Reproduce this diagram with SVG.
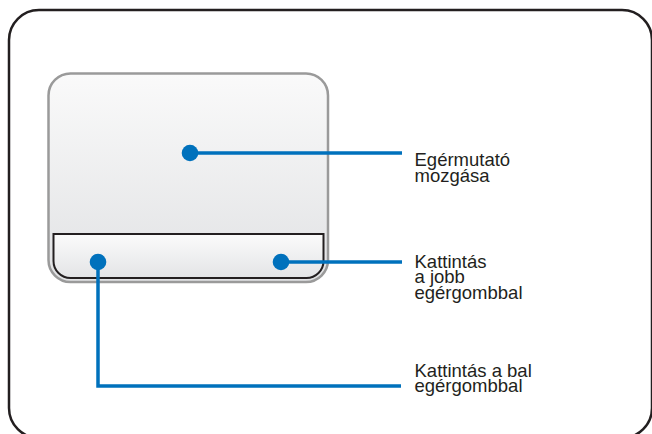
<svg xmlns="http://www.w3.org/2000/svg" width="652" height="434" viewBox="0 0 652 434">
<defs>
<linearGradient id="padGrad" x1="0" y1="0" x2="0" y2="1">
<stop offset="0" stop-color="#fafafa"/>
<stop offset="1" stop-color="#e1e2e4"/>
</linearGradient>
<linearGradient id="btnGrad" x1="0" y1="0" x2="0" y2="1">
<stop offset="0" stop-color="#fbfbfb"/>
<stop offset="1" stop-color="#e3e4e6"/>
</linearGradient>
<style>
.lbl{font-family:"Liberation Sans",Arial,sans-serif;font-size:18.5px;fill:#231f20;}
.conn{fill:none;stroke:#0071bc;stroke-width:3.5;}
.dot{fill:#0071bc;}
</style>
</defs>
<rect id="frame" x="9" y="10" width="643" height="428" rx="30" ry="30" fill="#ffffff" stroke="#231f20" stroke-width="2.5"/>
<g id="touchpad">
<rect x="48.5" y="73.5" width="279.5" height="208.5" rx="22" ry="22" fill="url(#padGrad)" stroke="#9a9a9a" stroke-width="2.5"/>
</g>
<g id="buttons">
<path d="M53.5,234 H323.5 V261 A17,17 0 0 1 306.5,278 H70.5 A17,17 0 0 1 53.5,261 Z" fill="url(#btnGrad)" stroke="#231f20" stroke-width="2"/>
</g>
<g id="connectors">
<path class="conn" d="M190,153 H402"/>
<path class="conn" d="M281,262 H402"/>
<path class="conn" d="M98,262 V386 H401"/>
</g>
<g id="dot-pointer"><circle class="dot" cx="190" cy="153" r="8.3"/></g>
<g id="dot-right"><circle class="dot" cx="281" cy="262" r="8.3"/></g>
<g id="dot-left"><circle class="dot" cx="98" cy="262" r="8.3"/></g>
<g id="label-pointer">
<text class="lbl" x="414.5" y="165.5">Egérmutató</text>
<text class="lbl" x="414.5" y="182">mozgása</text>
</g>
<g id="label-right">
<text class="lbl" x="414.5" y="267.5">Kattintás</text>
<text class="lbl" x="414.5" y="283">a jobb</text>
<text class="lbl" x="414.5" y="298.5">egérgombbal</text>
</g>
<g id="label-left">
<text class="lbl" x="414.5" y="376.5">Kattintás a bal</text>
<text class="lbl" x="414.5" y="392">egérgombbal</text>
</g>
</svg>
